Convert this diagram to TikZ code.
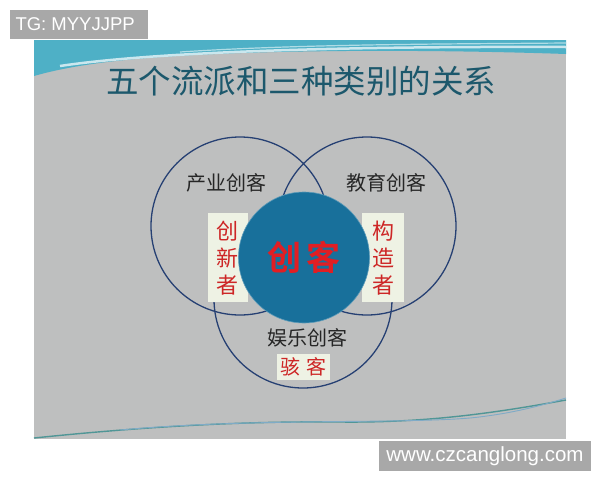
\documentclass[tikz,border=0pt]{standalone}
\usepackage{fontspec}
\setmainfont{Liberation Sans}
\newfontfamily\cjk{Noto Sans CJK SC}
\newfontfamily\cjkbold{Noto Sans CJK SC Bold}
\definecolor{slidegray}{RGB}{190,191,191}
\definecolor{titleteal}{RGB}{28,88,108}
\definecolor{ringblue}{RGB}{38,64,115}
\definecolor{coreblue}{RGB}{24,112,155}
\definecolor{labelred}{RGB}{205,38,38}
\definecolor{corered}{RGB}{225,30,35}
\definecolor{boxcream}{RGB}{238,242,228}
\definecolor{wmgray}{RGB}{168,168,168}
\definecolor{bandcyan}{RGB}{78,176,198}
\definecolor{wavegreen}{RGB}{80,150,150}
\definecolor{waveblue}{RGB}{95,150,185}
\tikzset{
  ring/.style={circle, draw=ringblue, line width=1.3pt, minimum size=178pt, inner sep=0pt},
  labelbox/.style={fill=boxcream, inner sep=0pt, align=center},
  grouptext/.style={font=\cjk\fontsize{20}{22}\selectfont, text=black!85},
  wm/.style={fill=wmgray, text=white, inner sep=0pt, anchor=north west}
}
\begin{document}
\begin{tikzpicture}[x=1pt,y=-1pt]
\useasboundingbox (0,0) rectangle (600,480);
\fill[white] (0,0) rectangle (600,480);
% slide
\fill[slidegray] (34,40) rectangle (566,439);
% top band
\fill[bandcyan] (34,40) -- (566,40) -- (566,54) .. controls (420,49) and (260,50) .. (160,57) .. controls (90,62) and (55,70) .. (34,76) -- cycle;
\draw[white!70!bandcyan, line width=2.5pt] (60,66) .. controls (140,54) and (300,46) .. (566,47);
\draw[white!55!bandcyan, line width=1.2pt] (180,52) .. controls (300,44) and (450,44) .. (566,43);
% bottom waves
\draw[wavegreen, line width=1.4pt] (34,438) .. controls (150,426) and (250,421) .. (340,422) .. controls (430,423) and (500,412) .. (566,400);
\draw[waveblue!80!white, line width=0.9pt] (120,430) .. controls (250,418) and (400,424) .. (470,418) .. controls (510,414) and (540,406) .. (566,398);
% title
\node[font=\cjk\fontsize{32.5}{34}\selectfont, text=titleteal] (title) at (301,81) {五个流派和三种类别的关系};
% rings
\node[ring] (industry) at (240,226) {};
\node[ring] (education) at (367,226) {};
\node[ring] (entertain) at (303,299) {};
% label boxes
\node[labelbox, minimum width=40pt, minimum height=89pt] (leftbox) at (228,257.5) {};
\node[labelbox, minimum width=42pt, minimum height=89pt] (rightbox) at (383,257.5) {};
\node[labelbox, minimum width=53pt, minimum height=26pt] (hackbox) at (303,367) {};
% core
\node[circle, fill=coreblue, draw=coreblue!70!white, line width=0.6pt, minimum size=131pt, inner sep=0pt] (core) at (304,257.5) {};
\node[font=\cjkbold\fontsize{34}{36}\selectfont, text=corered] (coretext) at (304,257.5) {创\hspace{6pt}客};
% texts
\node[grouptext] (t1) at (226,183) {产业创客};
\node[grouptext] (t2) at (386,183) {教育创客};
\node[grouptext] (t3) at (307,338) {娱乐创客};
\node[font=\cjk\fontsize{22}{27}\selectfont, text=labelred, align=center] (innov) at (227,258) {创\\新\\者};
\node[font=\cjk\fontsize{22}{27}\selectfont, text=labelred, align=center] (maker) at (383,258) {构\\造\\者};
\node[font=\cjk\fontsize{20}{22}\selectfont, text=labelred] (hack) at (303,367) {骇\hspace{6pt}客};
% watermarks
\node[wm, minimum width=138pt, minimum height=29pt] (tg) at (10,10) {};
\node[font=\fontsize{18.5}{20}\selectfont, text=white, anchor=west] (tgtext) at (12,24.5) {TG: MYYJJPP};
\node[wm, minimum width=212pt, minimum height=30pt] (site) at (379,441) {};
\node[font=\fontsize{20.5}{22}\selectfont, text=white] (sitetext) at (485,456) {www.czcanglong.com};
\end{tikzpicture}
\end{document}
